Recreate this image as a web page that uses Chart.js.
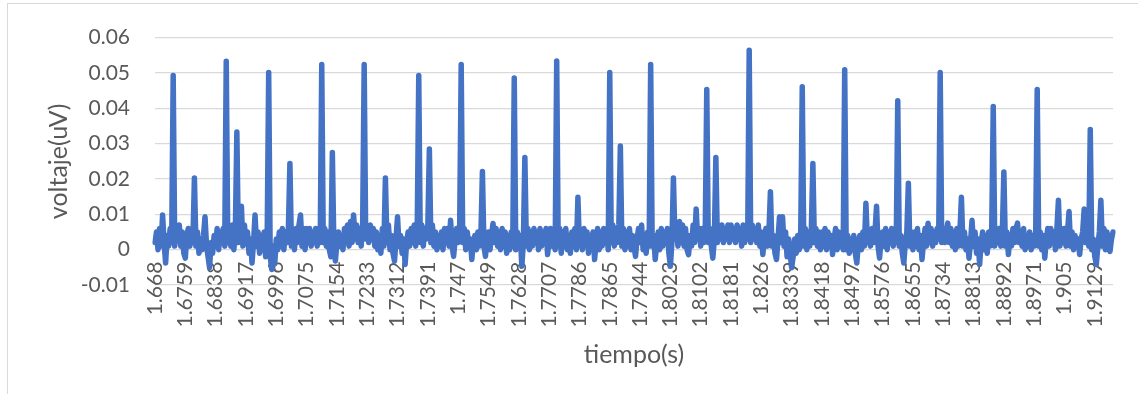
<!DOCTYPE html>
<html>
<head>
<meta charset="utf-8">
<script src="https://cdn.jsdelivr.net/npm/chart.js@4.4.1/dist/chart.umd.min.js"></script>
<style>
  html, body { margin: 0; padding: 0; background: #ffffff; }
  #wrap { position: relative; width: 1138px; height: 394px; overflow: hidden; }
  #frame { position: absolute; left: 7px; top: 3px; right: -10px; bottom: -10px;
           border-left: 1px solid #d9d9d9; border-top: 1px solid #d9d9d9; }
  canvas { position: absolute; left: 0; top: 0; }
</style>
</head>
<body>
<div id="wrap">
  <div id="frame"></div>
  <canvas id="c" width="1138" height="394"></canvas>
</div>
<script>
// ---- data ----
const pointsPerLabel = 20;

const tickLabels = ['1.668','1.6759','1.6838','1.6917','1.6996','1.7075','1.7154','1.7233',
  '1.7312','1.7391','1.747','1.7549','1.7628','1.7707','1.7786','1.7865','1.7944','1.8023',
  '1.8102','1.8181','1.826','1.8339','1.8418','1.8497','1.8576','1.8655','1.8734','1.8813',
  '1.8892','1.8971','1.905','1.9129'];

const voltage = [
  0.002,0.005,0.000,0.006,0.001,0.0098,0.002,-0.0038,0.004,0.001,0.006,0.002,0.0493,0.001,0.006,0.003,0.007,0.001,0.005,-0.001,
  -0.0024,0.004,0.006,0.001,0.005,0.002,0.0203,0.001,0.005,-0.001,0.003,0.000,0.004,0.0093,0.001,-0.002,-0.0051,0.002,-0.001,0.004,
  0.001,0.006,0.000,0.005,0.002,0.006,0.001,0.0533,0.002,0.006,0.001,0.007,0.000,0.005,0.0333,0.002,0.006,0.0123,0.001,0.007,
  0.002,0.005,-0.001,0.003,-0.0038,0.002,0.0098,0.001,0.005,-0.001,0.004,0.000,0.005,-0.002,0.003,0.0501,-0.002,-0.0056,0.001,-0.004,
  0.003,0.000,0.005,0.001,0.006,0.000,0.005,0.002,0.006,0.0244,0.001,0.005,0.000,0.006,0.002,0.007,0.0098,0.001,0.006,0.000,
  0.006,0.002,0.006,0.001,0.005,0.002,0.006,0.001,0.006,0.002,0.0524,0.002,0.006,0.001,0.005,0.000,-0.002,0.0275,0.001,-0.0032,
  0.002,0.005,0.001,0.004,0.000,0.006,0.002,0.007,0.001,0.008,0.002,0.0098,0.003,0.007,0.002,0.006,0.001,0.007,0.0524,0.003,
  0.006,0.002,0.007,0.003,0.006,0.001,0.005,0.000,0.004,-0.001,0.006,0.001,0.0203,0.002,0.007,0.000,0.004,-0.001,-0.0032,0.003,
  0.0093,0.001,0.004,-0.001,0.003,-0.0042,0.002,0.005,0.001,0.006,0.002,0.007,0.001,0.006,0.0493,0.002,0.007,0.001,0.006,0.003,
  0.007,0.0285,0.002,0.007,0.001,0.005,0.000,0.004,0.001,0.005,0.000,0.006,0.002,0.006,0.001,0.0083,0.001,-0.0019,0.003,0.006,
  0.002,0.007,0.0524,0.002,0.006,0.000,0.005,0.001,0.003,-0.0028,0.002,0.004,0.000,0.005,0.001,0.004,0.0221,0.001,-0.0019,0.003,
  0.005,0.000,0.004,0.0074,0.002,0.006,0.001,0.005,0.000,0.006,0.001,0.005,-0.001,0.004,0.000,0.005,0.001,0.0486,0.000,0.005,
  0.001,0.004,-0.0047,0.002,0.0261,0.001,0.006,0.000,0.005,0.001,0.006,0.002,0.005,0.000,0.006,0.001,0.005,0.002,0.006,-0.0014,
  0.003,0.006,0.001,0.005,0.000,0.0534,0.001,0.006,-0.001,0.005,0.001,0.006,0.000,0.004,-0.001,0.005,0.001,0.006,0.000,0.0148,
  0.001,0.005,0.000,0.006,0.002,0.005,-0.001,0.004,0.001,0.005,-0.0028,0.002,0.006,0.000,0.005,0.001,0.006,0.002,0.005,0.000,
  0.0501,0.002,0.007,0.001,0.006,0.002,0.007,0.0293,0.001,0.006,0.000,0.005,0.001,0.006,0.000,0.004,0.001,-0.0019,0.003,0.006,
  0.002,0.007,0.000,0.004,-0.001,0.005,0.001,0.0524,0.001,0.004,-0.0028,0.002,0.005,0.000,0.006,0.001,0.005,0.002,0.006,-0.001,
  -0.0047,0.002,0.0203,0.003,0.007,0.001,0.008,0.002,0.007,0.001,0.006,0.000,-0.0014,0.004,0.001,0.007,0.002,0.0115,0.003,0.006,
  0.001,0.006,0.002,0.005,0.0453,0.002,0.006,0.001,-0.0024,0.003,0.0261,0.002,0.006,0.003,0.007,0.002,0.006,0.003,0.007,0.002,
  0.007,0.003,0.006,0.002,0.007,0.003,0.006,0.001,0.007,0.002,0.006,0.003,0.0564,0.002,0.007,0.003,0.006,0.002,0.007,0.001,
  0.005,-0.0014,0.003,0.006,0.001,0.005,0.0164,0.001,0.004,-0.001,-0.0028,0.003,0.0093,0.002,0.0093,0.001,0.005,-0.002,0.003,-0.001,
  -0.0051,-0.002,0.003,-0.001,0.004,0.000,0.005,0.0461,0.001,0.006,0.000,0.005,0.001,0.006,0.0244,0.002,0.006,0.001,0.005,0.000,
  0.005,0.001,0.006,0.000,0.005,0.001,0.004,-0.0014,0.003,0.006,0.000,0.005,0.001,0.004,0.000,0.0509,0.000,0.004,-0.001,0.003,
  0.000,0.004,-0.001,-0.0038,0.002,0.004,0.000,0.005,0.001,0.0131,0.002,0.005,0.001,0.006,0.002,0.005,0.0123,0.001,-0.0024,0.003,
  0.005,0.001,0.006,0.000,0.005,0.002,0.006,0.001,0.005,0.002,0.0421,0.001,0.004,-0.001,-0.0038,0.002,0.005,0.0188,0.001,0.005,
  0.000,0.005,0.001,0.006,0.000,0.004,-0.0028,0.002,0.006,0.001,0.0075,0.002,0.006,0.001,0.005,0.002,0.006,0.003,0.0501,0.002,
  0.006,0.002,0.005,0.0075,0.002,0.006,0.001,0.005,0.000,0.006,0.001,0.005,0.0148,0.001,0.005,0.000,0.003,-0.0024,0.002,0.0083,
  0.001,0.005,-0.001,0.003,-0.0042,0.002,0.005,0.000,0.004,-0.001,0.005,0.001,0.006,0.0405,0.001,0.006,0.002,0.006,0.001,0.005,
  0.022,0.001,0.005,-0.0014,0.004,0.001,0.006,0.002,0.006,0.0075,0.002,0.005,0.001,0.006,0.000,0.004,0.001,0.005,0.000,0.004,
  0.001,0.005,0.0453,0.001,0.005,0.000,0.004,-0.0024,0.003,0.006,0.001,0.006,0.002,0.005,0.000,0.006,0.014,0.001,0.006,0.002,
  0.006,0.001,0.005,0.0108,0.001,0.005,0.000,0.004,0.001,0.003,-0.0014,0.003,0.005,0.0115,0.002,0.006,0.001,0.034,0.000,0.003,
  -0.002,-0.0042,0.001,0.005,0.014,0.001,0.006,0.000,0.005,0.001,-0.0005,0.003,0.005
];

const yMin = -0.01, yMax = 0.06, yStep = 0.01;
const xTitle = 'tiempo(s)';
const yTitle = 'voltaje(uV)';

// category table built from the tick labels (one labelled sample every pointsPerLabel samples)
const categories = voltage.map((_, i) => (i % pointsPerLabel === 0 ? tickLabels[i / pointsPerLabel] : ''));

const textColor = '#595959';
const fontFamily = 'Lato, "Open Sans", sans-serif';

new Chart(document.getElementById('c'), {
  type: 'line',
  data: {
    labels: categories,
    datasets: [{
      data: voltage,
      borderColor: '#4472C4',
      borderWidth: 5.5,
      borderJoinStyle: 'round',
      borderCapStyle: 'round',
      pointRadius: 0,
      pointHoverRadius: 0,
      tension: 0,
      fill: false
    }]
  },
  options: {
    responsive: false,
    animation: false,
    devicePixelRatio: 1,
    layout: { padding: { left: 0, top: 33, right: 25, bottom: 109 } },
    plugins: { legend: { display: false }, tooltip: { enabled: false } },
    scales: {
      x: {
        type: 'category',
        position: { y: 0 },
        offset: false,
        grid: { display: false, drawTicks: false },
        border: { display: false },
        ticks: {
          autoSkip: false,
          minRotation: 90,
          maxRotation: 90,
          padding: 12,
          color: textColor,
          font: { family: fontFamily, size: 21 },
          callback: (v, i) => (i % pointsPerLabel === 0 ? tickLabels[i / pointsPerLabel] : null)
        },
        title: {
          display: true,
          text: xTitle,
          color: textColor,
          font: { family: fontFamily, size: 25 },
          padding: { top: 0, bottom: 0 }
        }
      },
      y: {
        min: yMin,
        max: yMax,
        grid: { color: '#d9d9d9', lineWidth: 1.3, drawTicks: false },
        border: { display: false },
        ticks: {
          stepSize: yStep,
          padding: 25,
          color: textColor,
          font: { family: fontFamily, size: 21 },
          callback: (v) => String(Number(Number(v).toFixed(2)))
        },
        title: {
          display: true,
          text: yTitle,
          color: textColor,
          font: { family: fontFamily, size: 25 },
          padding: { top: 44, bottom: 0 }
        },
        afterFit: (scale) => { scale.width = 155; }
      }
    }
  }
});
</script>
</body>
</html>
